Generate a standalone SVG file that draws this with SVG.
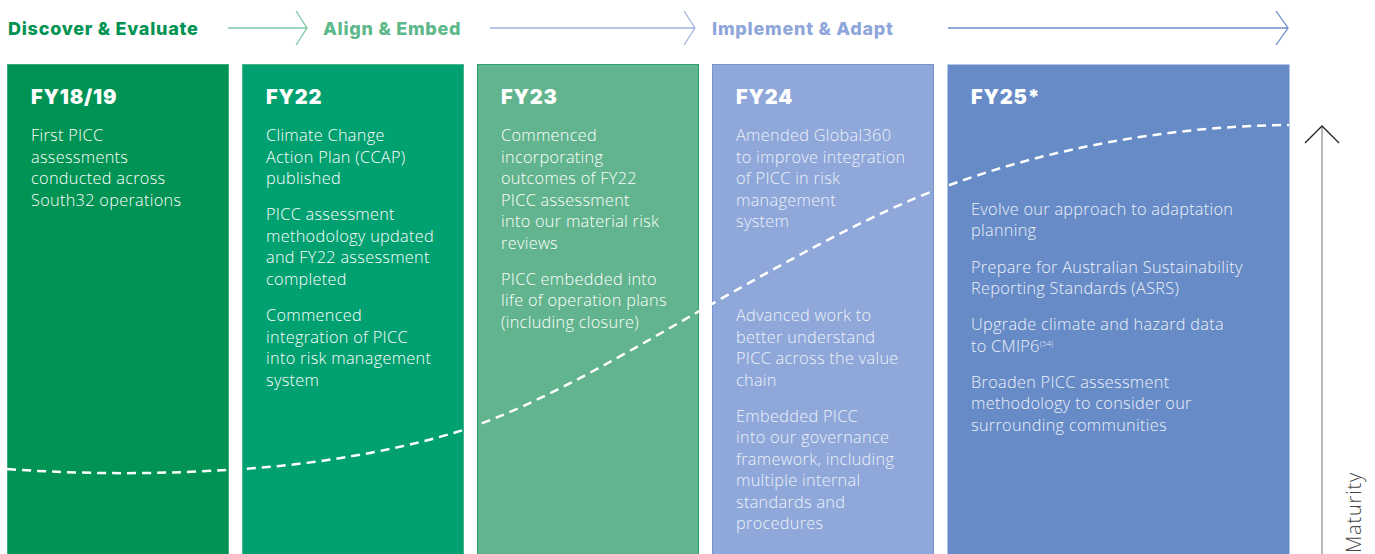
<svg xmlns="http://www.w3.org/2000/svg" width="1375" height="554" viewBox="0 0 1375 554">
<style>
.phase{font-family:"Inter","Liberation Sans",sans-serif;font-weight:800;font-size:18px;letter-spacing:0.75px}
.hd{font-family:"Inter","Liberation Sans",sans-serif;font-weight:900;font-size:20px;letter-spacing:0.8px;fill:#fff}
.bd{font-family:"Open Sans","Liberation Sans",sans-serif;font-weight:300;font-size:16.3px;letter-spacing:0.3px;fill:#fff}
.dim{fill:#eef1fa}
.arr{fill:none;stroke-width:1.3}
</style>
<rect width="1375" height="554" fill="#fff"/>
<g id="phases">
<text class="phase" x="8" y="34.5" fill="#009353">Discover &amp; Evaluate</text>
<text class="phase" x="323" y="34.5" fill="#5DB88A">Align &amp; Embed</text>
<text class="phase" x="712" y="34.5" fill="#8EA6DA">Implement &amp; Adapt</text>
</g>
<g id="connectors">
<path class="arr" stroke="#7CC7A2" d="M228,28H307M296,11L307,28L296,45"/>
<path class="arr" stroke="#A4B4E2" d="M490,28H695M684,11L695,28L684,45"/>
<path class="arr" stroke="#6C8DCB" d="M948,28H1288M1276,11L1288,28L1276,45"/>
</g>
<g id="fy1819">
<rect x="7.5" y="64.5" width="221" height="495" fill="#009353" stroke="#3aa877" stroke-width="1"/>
<text class="hd" x="31" y="104">FY18/19</text>
<text class="bd" x="31"><tspan x="31" y="141">First PICC</tspan><tspan x="31" y="162.5">assessments</tspan><tspan x="31" y="184">conducted across</tspan><tspan x="31" y="205.5">South32 operations</tspan></text>
</g>
<g id="fy22">
<rect x="242.5" y="64.5" width="221" height="495" fill="#00A070" stroke="#45b487" stroke-width="1"/>
<text class="hd" x="266" y="104">FY22</text>
<text class="bd"><tspan x="266" y="141">Climate Change</tspan><tspan x="266" y="162.5">Action Plan (CCAP)</tspan><tspan x="266" y="184">published</tspan><tspan x="266" y="220">PICC assessment</tspan><tspan x="266" y="241.5">methodology updated</tspan><tspan x="266" y="263">and FY22 assessment</tspan><tspan x="266" y="284.5">completed</tspan><tspan x="266" y="321">Commenced</tspan><tspan x="266" y="342.5">integration of PICC</tspan><tspan x="266" y="364">into risk management</tspan><tspan x="266" y="385.5">system</tspan></text>
</g>
<g id="fy23">
<rect x="477.5" y="64.5" width="221" height="495" fill="#62B48E" stroke="#30a06c" stroke-width="1"/>
<text class="hd" x="501" y="104">FY23</text>
<text class="bd"><tspan x="501" y="141">Commenced</tspan><tspan x="501" y="162.5">incorporating</tspan><tspan x="501" y="184">outcomes of FY22</tspan><tspan x="501" y="205.5">PICC assessment</tspan><tspan x="501" y="227">into our material risk</tspan><tspan x="501" y="248.5">reviews</tspan><tspan x="501" y="284.5">PICC embedded into</tspan><tspan x="501" y="306">life of operation plans</tspan><tspan x="501" y="327.5">(including closure)</tspan></text>
</g>
<g id="fy24">
<rect x="712.5" y="64.5" width="221" height="495" fill="#8FA8D9" stroke="#7494d0" stroke-width="1"/>
<text class="hd" x="736" y="104">FY24</text>
<text class="bd dim"><tspan x="736" y="141">Amended Global360</tspan><tspan x="736" y="162.5">to improve integration</tspan><tspan x="736" y="184">of PICC in risk</tspan><tspan x="736" y="205.5">management</tspan><tspan x="736" y="227">system</tspan><tspan x="736" y="321">Advanced work to</tspan><tspan x="736" y="342.5">better understand</tspan><tspan x="736" y="364">PICC across the value</tspan><tspan x="736" y="385.5">chain</tspan><tspan x="736" y="421.5">Embedded PICC</tspan><tspan x="736" y="443">into our governance</tspan><tspan x="736" y="464.5">framework, including</tspan><tspan x="736" y="486">multiple internal</tspan><tspan x="736" y="507.5">standards and</tspan><tspan x="736" y="529">procedures</tspan></text>
</g>
<g id="fy25">
<rect x="947.5" y="64.5" width="342" height="495" fill="#668BC6"/>
<text class="hd" x="971" y="104">FY25*</text>
<text class="bd dim"><tspan x="971" y="214.5">Evolve our approach to adaptation</tspan><tspan x="971" y="236">planning</tspan><tspan x="971" y="272.5">Prepare for Australian Sustainability</tspan><tspan x="971" y="294">Reporting Standards (ASRS)</tspan><tspan x="971" y="330">Upgrade climate and hazard data</tspan><tspan x="971" y="351.5">to CMIP6</tspan><tspan dy="-6" font-size="8" letter-spacing="0">(54)</tspan><tspan x="971" y="387.5">Broaden PICC assessment</tspan><tspan x="971" y="409">methodology to consider our</tspan><tspan x="971" y="430.5">surrounding communities</tspan></text>
</g>
<g id="curve">
<path d="M7,469 C90,475 170,474 242,469 C320,464 400,450 463,430 C540,405 640,345 696,313 C770,271 870,213 947,186 C1050,148 1170,126 1289,125" fill="none" stroke="#fff" stroke-width="2.5" stroke-dasharray="9 6"/>
</g>
<g id="maturity">
<line x1="1322" y1="126" x2="1322" y2="554" stroke="#a0a0a0" stroke-width="1.5"/>
<path d="M1305,143L1322,126L1339,143" fill="none" stroke="#222" stroke-width="1.3"/>
<text x="1361" y="553" transform="rotate(-90 1361 553)" font-family="Open Sans,Liberation Sans,sans-serif" font-weight="300" font-size="20" letter-spacing="0.8" fill="#444">Maturity</text>
</g>
</svg>
